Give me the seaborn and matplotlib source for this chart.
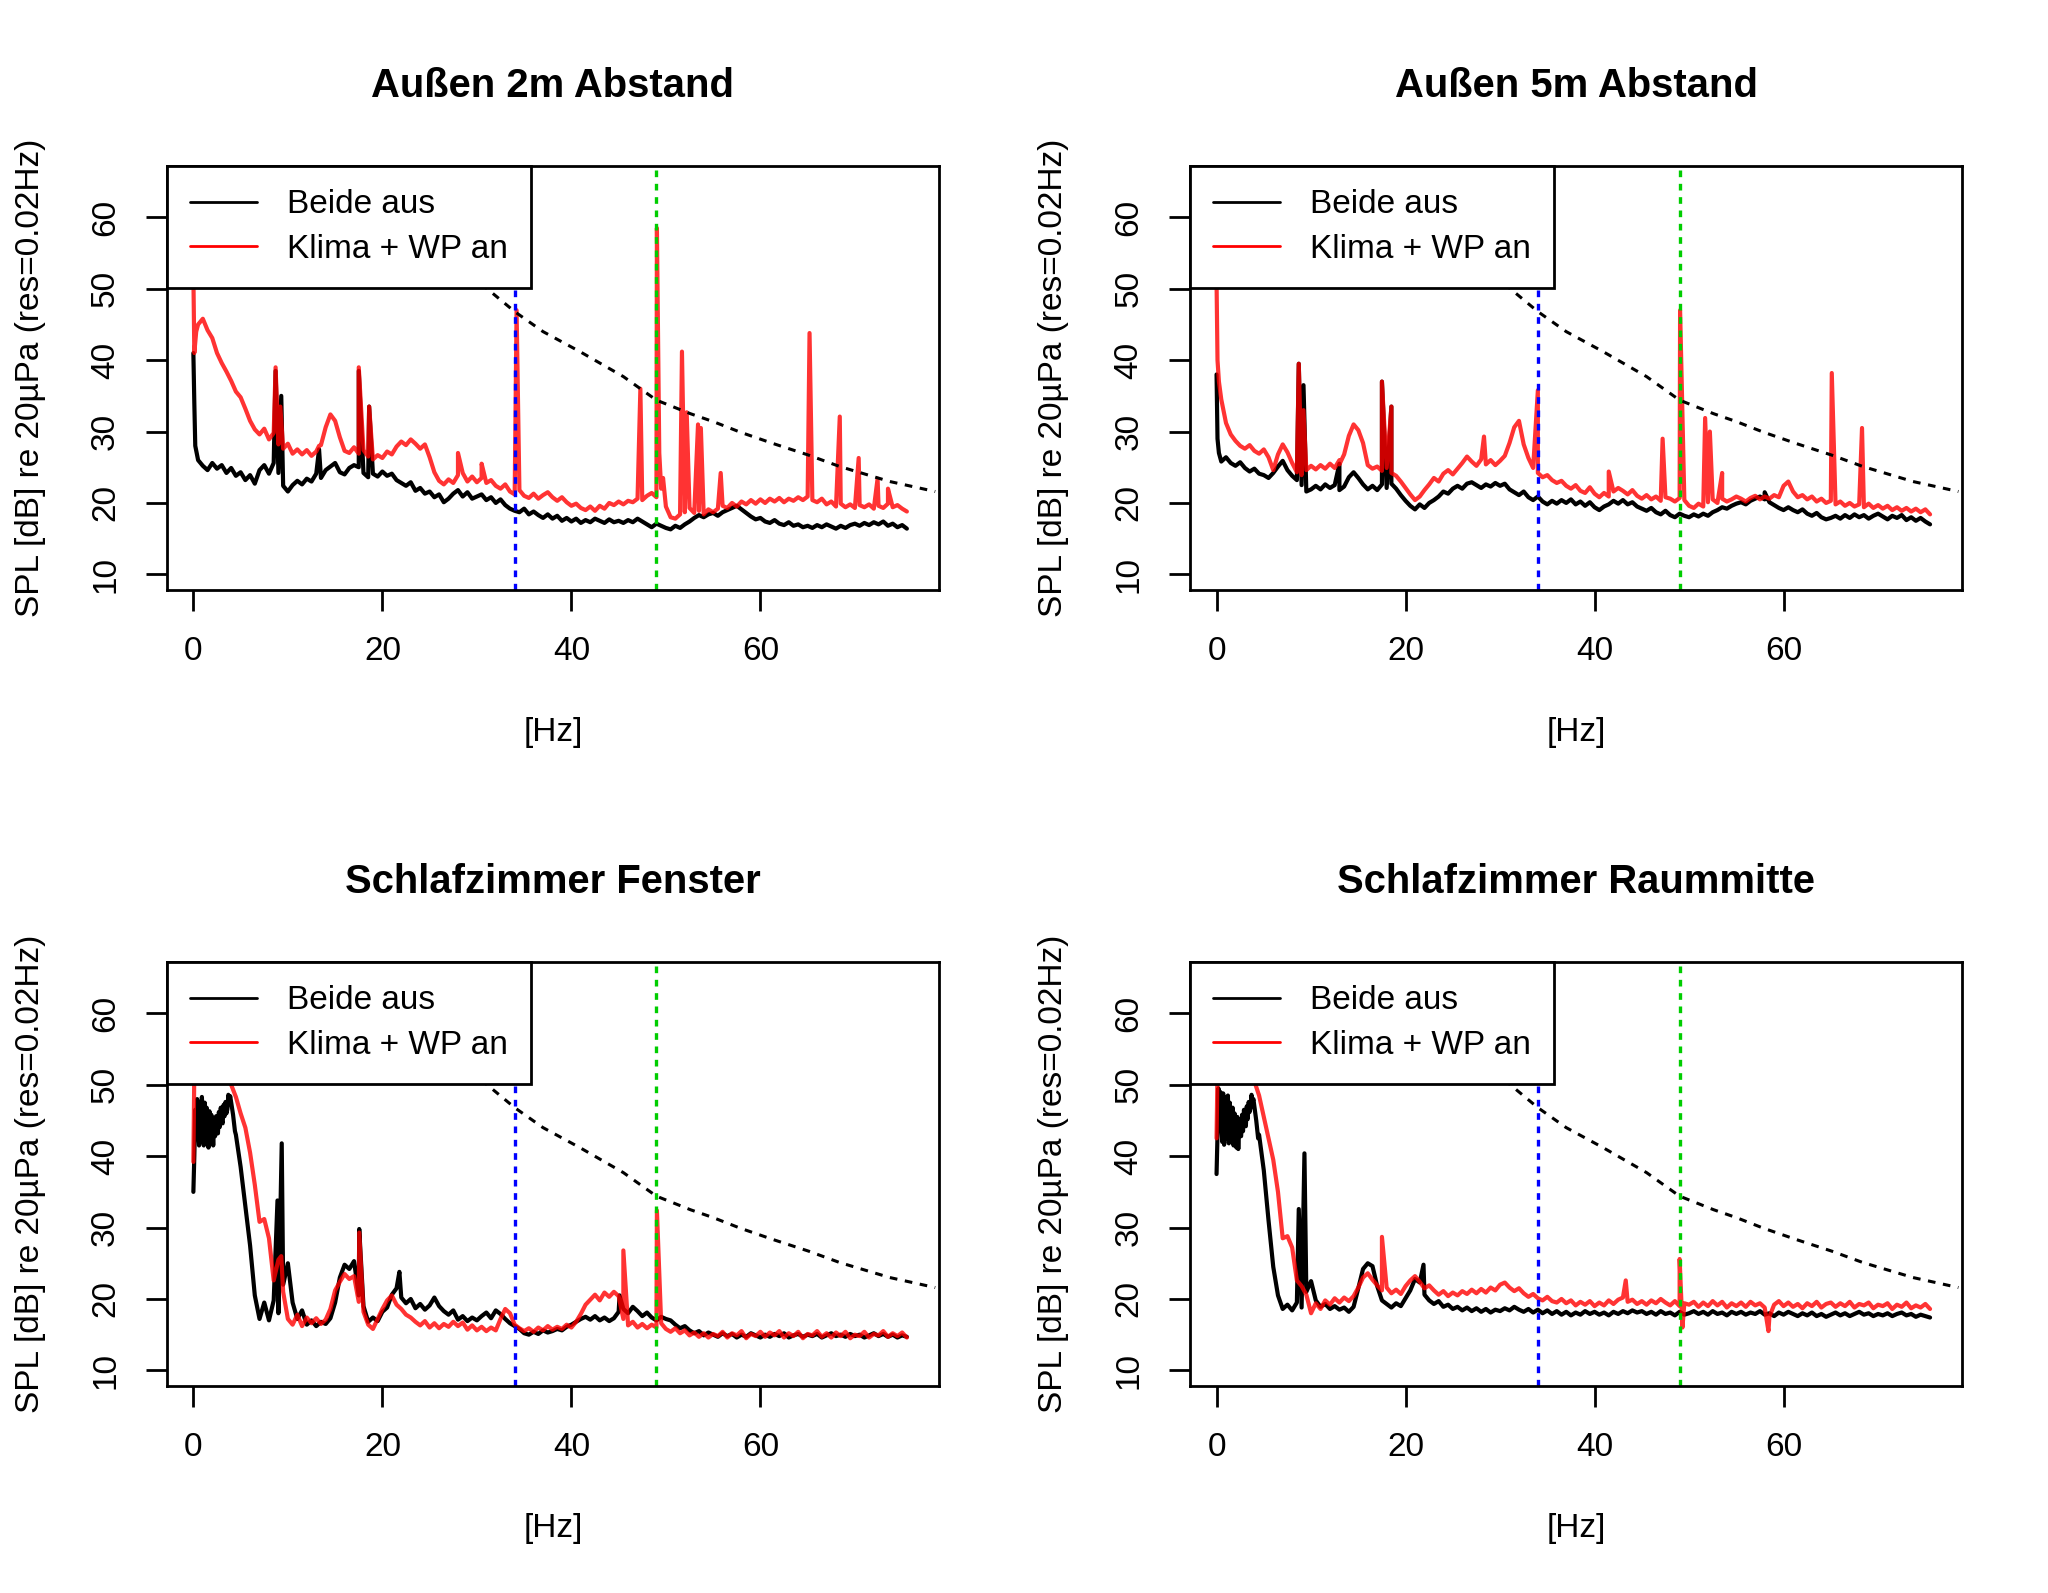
import numpy as np
import pandas as pd
import matplotlib
matplotlib.use("Agg")
import matplotlib.pyplot as plt
from matplotlib.lines import Line2D
import seaborn as sns

# Frequenzraster der Spektren (Hz), Werte alle 0.5 Hz
freq = np.arange(0.5, 76.0, 0.5)

# --- Außen 2m Abstand ---
a2_aus = [
    26.0, 25.2, 24.6, 25.6, 24.8, 25.3, 24.2, 24.9, 23.8, 24.3,
    23.2, 23.9, 22.7, 24.6, 25.3, 24.1, 25.6, 24.2, 22.4, 21.6,
    22.5, 23.1, 22.6, 23.4, 23.0, 24.1, 23.5, 24.6, 25.1, 25.6,
    24.3, 24.0, 24.9, 25.3, 25.0, 24.2, 23.6, 24.1, 23.7, 24.4,
    23.8, 24.1, 23.2, 22.8, 22.4, 22.9, 21.7, 22.1, 21.3, 21.6,
    20.8, 21.2, 20.1, 20.6, 21.3, 21.8, 20.9, 21.5, 20.6, 20.9,
    21.2, 20.4, 20.8, 20.0, 20.5, 19.7, 19.2, 18.9, 18.7, 19.2,
    18.4, 18.8, 18.3, 17.9, 18.4, 17.8, 18.2, 17.5, 17.9, 17.4,
    17.8, 17.2, 17.6, 17.3, 17.8, 17.5, 17.2, 17.7, 17.3, 17.5,
    17.2, 17.6, 17.3, 17.8, 17.4, 17.0, 16.6, 17.1, 16.8, 16.5,
    16.3, 16.8, 16.5, 17.0, 17.4, 17.9, 18.3, 18.0, 18.4, 18.6,
    18.2, 18.7, 19.0, 19.3, 19.6, 19.1, 18.6, 18.1, 17.7, 17.9,
    17.4, 17.2, 17.6, 17.1, 16.9, 17.3, 16.8, 17.0, 16.6, 16.8,
    16.5, 16.9, 16.6, 17.0, 16.7, 16.4, 16.8, 16.5, 16.9, 17.1,
    16.8, 17.2, 16.9, 17.3, 17.0, 17.4, 16.8, 17.1, 16.6, 16.9,
    16.4,
]
a2_aus_extra = [(0.0, 41.0), (0.1, 34.0), (0.2, 28.0), (8.7, 38.5), (9.3, 35.0),
                (13.3, 27.5), (17.5, 38.5), (18.6, 33.5)]
a2_an = [
    45.0, 45.8, 44.2, 43.1, 41.0, 39.6, 38.4, 37.1, 35.6, 34.8,
    33.2, 31.5, 30.3, 29.6, 30.4, 28.9, 29.8, 28.2, 27.6, 28.3,
    26.9, 27.5, 26.8, 27.4, 26.6, 27.2, 28.1, 30.6, 32.4, 31.5,
    29.2, 27.3, 27.0, 27.8, 26.9, 27.4, 26.5, 26.1, 26.7, 26.3,
    27.2, 26.8, 27.9, 28.6, 28.1, 28.9, 28.3, 27.6, 28.2, 26.4,
    24.3, 23.1, 22.6, 23.3, 22.8, 23.9, 24.2, 23.0, 23.7, 22.9,
    23.5, 22.8, 23.2, 22.4, 22.0, 22.6, 21.6, 21.2, 21.8, 21.0,
    20.7, 21.3, 20.6, 21.1, 21.5, 20.8, 20.3, 20.8, 20.1, 19.6,
    19.9, 19.3, 19.0, 19.5, 18.9, 19.6, 19.2, 20.0, 19.7, 20.2,
    19.8, 20.3, 20.1, 20.6, 20.4, 21.0, 21.4, 20.8, 22.0, 19.5,
    18.0, 17.8, 18.4, 18.7, 19.3, 18.6, 18.9, 18.4, 19.1, 18.7,
    19.2, 19.6, 19.3, 20.0, 19.5, 20.2, 19.8, 20.4, 19.9, 20.5,
    20.0, 20.6, 20.2, 20.7, 20.1, 20.6, 20.3, 20.8, 20.4, 20.9,
    20.4, 20.1, 20.6, 19.8, 20.2, 19.5, 19.9, 19.4, 19.8, 19.3,
    19.7, 19.4, 19.8, 19.2, 19.6, 19.3, 19.9, 19.4, 19.7, 19.2,
    18.8,
]
a2_an_extra = [(0.0, 52.0), (0.1, 41.0), (0.3, 44.0), (8.7, 39.0), (9.2, 33.5),
               (13.3, 28.0), (17.5, 39.0), (18.6, 33.5), (28.0, 27.0), (30.5, 25.5),
               (34.2, 47.0), (47.3, 36.0), (49.05, 58.5), (49.3, 27.0), (49.7, 23.5),
               (51.7, 41.2), (52.2, 32.7), (53.4, 31.0), (53.7, 30.5), (55.8, 24.2),
               (65.2, 43.8), (68.4, 32.1), (70.4, 26.3), (72.4, 23.4), (73.5, 22.0)]

# --- Außen 5m Abstand ---
a5_aus = [
    25.8, 26.4, 25.6, 25.2, 25.7, 24.9, 24.4, 24.8, 24.1, 23.9,
    23.5, 24.2, 25.1, 25.9, 24.6, 23.8, 23.2, 22.5, 21.6, 21.9,
    22.4, 21.9, 22.6, 22.1, 22.5, 21.8, 22.3, 23.6, 24.3, 23.5,
    22.6, 21.9, 22.4, 21.8, 22.6, 22.1, 22.7, 22.0, 21.1, 20.3,
    19.6, 19.1, 19.8, 19.3, 20.0, 20.4, 20.9, 21.6, 21.3, 22.0,
    22.4, 22.0, 22.7, 22.9, 22.5, 22.1, 22.6, 22.3, 22.8, 22.4,
    22.7, 21.9, 21.5, 21.1, 21.6, 20.8, 20.4, 20.9, 20.2, 19.8,
    20.3, 19.9, 20.4, 20.0, 20.5, 19.8, 20.2, 19.6, 20.1, 19.4,
    19.0, 19.5, 19.8, 20.3, 19.9, 20.4, 19.8, 20.1, 19.5, 19.2,
    18.9, 19.3, 18.7, 18.4, 18.9, 18.3, 18.0, 18.5, 18.2, 18.0,
    18.4, 18.1, 18.5, 18.2, 18.7, 19.0, 19.4, 19.2, 19.6, 19.9,
    20.1, 19.8, 20.3, 20.6, 20.9, 20.5, 20.1, 19.7, 19.3, 19.0,
    19.4, 19.0, 18.7, 19.1, 18.5, 18.2, 18.6, 18.0, 17.7, 17.9,
    18.2, 17.8, 18.3, 17.9, 18.4, 18.0, 18.3, 17.8, 18.2, 18.5,
    18.1, 17.7, 18.2, 17.9, 18.3, 17.6, 18.0, 17.5, 17.9, 17.4,
    17.0,
]
a5_aus_extra = [(0.0, 38.0), (0.1, 29.0), (0.25, 27.0), (8.7, 39.5), (9.2, 36.5),
                (13.0, 25.5), (17.5, 37.0), (18.5, 33.5), (58.0, 21.5)]
a5_an = [
    34.5, 31.2, 29.6, 28.7, 28.0, 27.6, 28.1, 27.3, 26.9, 27.5,
    26.4, 24.6, 26.8, 28.2, 27.1, 25.6, 24.3, 23.9, 24.6, 25.2,
    24.7, 25.3, 24.8, 25.5, 24.9, 25.4, 26.8, 29.4, 31.0, 30.2,
    28.4, 25.3, 24.8, 25.1, 24.5, 24.9, 24.2, 23.8, 23.0, 22.1,
    21.2, 20.4, 20.9, 21.8, 22.6, 23.5, 23.0, 24.1, 24.6, 24.0,
    24.8, 25.6, 26.5, 25.8, 25.2, 26.1, 25.4, 26.0, 25.3, 25.9,
    26.6, 28.4, 30.6, 31.5, 28.2, 26.3, 24.9, 24.2, 23.6, 23.9,
    23.2, 22.8, 23.1, 22.4, 22.0, 22.5, 21.7, 21.4, 22.2, 21.3,
    20.8, 21.4, 20.9, 21.6, 22.1, 21.7, 21.2, 21.8, 21.0, 20.6,
    21.1, 20.5, 20.9, 20.3, 20.8, 20.6, 20.2, 20.7, 20.4, 19.6,
    19.3, 19.9, 19.5, 20.1, 20.5, 20.0, 20.6, 20.2, 20.5, 20.9,
    20.6, 20.2, 20.7, 21.0, 20.5, 20.9, 20.6, 21.1, 20.8, 22.4,
    23.0, 21.6, 20.8, 21.1, 20.5, 20.9, 20.2, 20.6, 20.0, 20.3,
    19.8, 20.2, 19.6, 20.0, 19.5, 19.8, 19.4, 19.9, 19.3, 19.7,
    19.2, 19.6, 19.0, 19.4, 18.9, 19.3, 18.8, 19.2, 18.7, 19.1,
    18.4,
]
a5_an_extra = [(0.0, 51.0), (0.1, 40.0), (0.25, 37.0), (8.7, 39.5), (9.2, 33.0),
               (13.0, 26.0), (17.5, 37.0), (18.5, 33.5), (28.3, 29.3), (34.0, 35.8),
               (41.5, 24.4), (47.2, 29.0), (49.05, 47.0), (51.7, 31.9), (52.2, 30.0),
               (53.5, 24.2), (65.1, 38.2), (68.3, 30.5)]

# --- Schlafzimmer Fenster ---
sf_aus = [
    44.0, 45.5, 43.5, 44.5, 43.8, 45.0, 46.0, 47.5, 43.0, 38.5,
    33.0, 27.5, 20.5, 17.2, 19.5, 17.0, 19.8, 18.0, 22.0, 25.0,
    19.5, 17.2, 18.4, 16.4, 17.0, 16.2, 16.8, 16.5, 17.3, 19.5,
    23.0, 24.8, 24.2, 25.3, 20.5, 19.0, 16.8, 17.4, 16.9, 18.2,
    18.8, 20.6, 21.5, 20.2, 19.4, 20.0, 18.7, 19.3, 18.5, 19.1,
    20.2, 19.0, 18.3, 17.8, 18.4, 17.1, 17.6, 16.9, 17.4, 17.0,
    17.6, 18.1, 17.3, 18.4, 17.9, 17.2, 16.6, 16.2, 15.8, 15.2,
    15.0, 15.4, 15.1, 15.6, 15.3, 15.5, 15.8, 15.6, 16.1, 16.4,
    16.8, 17.2, 17.5, 17.1, 17.6, 17.0, 17.4, 16.9, 17.3, 18.2,
    18.6, 18.0, 18.9, 18.3, 17.6, 18.1, 17.4, 17.0, 17.5, 17.2,
    17.0, 16.4, 15.9, 16.2, 15.6, 15.2, 15.5, 14.9, 15.3, 15.0,
    14.7, 15.2, 14.8, 15.1, 14.6, 15.0, 14.7, 15.2, 14.9, 14.6,
    15.0, 14.7, 15.1, 14.8, 15.2, 14.6, 14.9, 15.1, 14.7, 15.0,
    14.8, 15.1, 14.6, 14.9, 15.2, 14.8, 15.0, 14.7, 15.1, 14.8,
    15.0, 14.6, 14.9, 15.2, 14.8, 15.1, 14.7, 15.0, 14.6, 14.9,
    14.7,
]
sf_aus_extra = [(0.0, 35.0), (0.1, 40.0), (0.2, 46.5), (0.3, 42.5), (0.4, 48.0),
                (0.6, 41.5), (0.7, 47.5), (0.8, 42.0), (0.9, 48.3), (1.1, 41.5),
                (1.2, 47.5), (1.3, 43.0), (1.4, 46.8), (1.6, 41.2), (1.7, 46.3),
                (1.8, 42.2), (1.9, 45.8), (2.1, 41.5), (2.2, 45.2), (2.3, 42.8),
                (2.4, 45.6), (2.6, 43.2), (2.7, 46.2), (2.8, 44.1), (2.9, 46.8),
                (3.1, 44.6), (3.2, 47.2), (3.3, 45.6), (3.4, 47.6), (3.6, 46.6),
                (3.7, 48.6), (3.8, 47.8), (3.9, 48.4), (4.2, 45.8), (4.3, 44.6),
                (4.4, 43.5), (8.9, 33.8), (9.35, 41.8), (17.55, 29.8), (21.8, 23.8),
                (45.1, 20.5)]
sf_an = [
    55.0, 56.0, 55.5, 56.5, 55.0, 54.5, 53.0, 50.0, 48.3, 46.0,
    44.0, 40.5, 36.0, 30.8, 31.2, 28.5, 22.6, 25.5, 21.0, 17.2,
    16.4, 17.8, 16.2, 17.4, 16.6, 17.3, 16.5, 17.1, 18.6, 21.2,
    22.4, 23.5, 22.8, 23.2, 19.6, 18.2, 16.4, 15.8, 17.2, 18.6,
    19.8, 20.5, 19.2, 18.6, 17.8, 17.4, 16.8, 16.3, 16.9, 16.0,
    16.6, 15.9, 16.5, 16.1, 16.8, 16.2, 16.7, 15.7, 16.3, 15.6,
    16.1, 15.5, 16.0, 15.6, 17.2, 18.6, 18.0, 16.4, 15.9, 15.5,
    15.9, 15.4, 16.0, 15.6, 16.2, 15.7, 16.1, 15.8, 16.4, 16.0,
    16.8, 17.9, 19.2, 19.9, 20.6, 19.8, 20.9, 20.3, 21.0, 20.4,
    17.2, 16.3, 16.8, 16.0, 16.5, 15.9, 16.4, 16.0, 16.6, 15.8,
    15.4, 15.9, 15.2, 15.6, 14.9, 15.3, 14.7, 15.2, 14.6, 15.1,
    14.8, 15.4, 14.6, 15.2, 14.9, 15.5, 14.5, 15.1, 14.8, 15.4,
    14.7, 15.3, 14.9, 15.5, 14.6, 15.2, 14.8, 15.4, 14.5, 15.1,
    14.9, 15.5, 14.7, 15.2, 14.6, 15.3, 14.8, 15.4, 14.5, 15.0,
    14.8, 15.4, 14.6, 15.1, 14.9, 15.5, 14.7, 15.2, 14.8, 15.3,
    14.6,
]
sf_an_extra = [(0.0, 39.2), (0.1, 52.0), (9.3, 26.0), (17.55, 29.3), (45.5, 26.8),
               (49.05, 32.4)]

# --- Schlafzimmer Raummitte ---
sr_aus = [
    44.5, 45.0, 43.8, 43.5, 43.0, 44.8, 46.2, 47.0, 43.0, 38.0,
    31.0, 24.5, 20.5, 18.6, 19.2, 18.4, 19.5, 18.8, 21.0, 22.5,
    19.8, 18.9, 19.3, 18.6, 19.0, 18.5, 18.8, 18.2, 18.9, 21.5,
    24.2, 25.0, 24.6, 21.8, 19.8, 19.3, 18.8, 19.4, 19.0, 20.1,
    21.2, 22.8, 22.3, 20.6, 19.8, 19.3, 19.7, 18.9, 19.2, 18.6,
    18.9, 18.4, 18.8, 18.3, 18.7, 18.2, 18.6, 18.1, 18.5, 18.3,
    18.7, 18.4, 18.9, 18.5, 18.2, 18.6, 18.1, 18.5, 18.0, 18.4,
    17.9, 18.3, 17.8, 18.2, 17.7, 18.1, 17.8, 18.3, 17.9, 18.2,
    17.8, 18.1, 17.7, 18.2, 17.9, 18.3, 18.0, 18.4, 18.1, 18.3,
    17.9, 18.2, 17.8, 18.3, 17.9, 18.1, 17.7, 18.2, 17.8, 18.0,
    18.3, 17.9, 18.2, 17.8, 18.3, 17.9, 18.1, 17.7, 18.2, 17.9,
    18.2, 17.8, 18.1, 17.9, 18.3, 17.8, 18.0, 17.6, 18.1, 17.8,
    18.2, 17.9, 17.6, 18.0, 17.7, 18.1, 17.6, 17.9, 17.5, 17.8,
    18.1, 17.7, 18.0, 17.6, 17.9, 18.2, 17.8, 18.0, 17.6, 17.9,
    17.7, 18.0, 17.6, 17.9, 18.1, 17.7, 17.9, 17.5, 17.8, 17.6,
    17.4,
]
sr_aus_extra = [(0.0, 37.5), (0.1, 43.0), (0.2, 49.5), (0.3, 44.0), (0.4, 49.0),
                (0.6, 42.0), (0.7, 48.8), (0.8, 41.6), (0.9, 48.2), (1.1, 42.5),
                (1.2, 48.5), (1.3, 41.8), (1.4, 47.5), (1.6, 42.2), (1.7, 46.8),
                (1.8, 41.5), (1.9, 46.0), (2.1, 41.2), (2.2, 45.5), (2.3, 41.0),
                (2.4, 44.8), (2.6, 42.8), (2.7, 45.8), (2.8, 43.5), (2.9, 46.5),
                (3.1, 44.2), (3.2, 47.0), (3.3, 45.2), (3.4, 47.6), (3.6, 46.8),
                (3.7, 48.6), (3.8, 47.5), (3.9, 48.0), (4.2, 45.0), (4.3, 43.8),
                (4.4, 42.5), (8.7, 32.6), (9.3, 40.4), (21.9, 24.8)]
sr_an = [
    55.0, 56.0, 55.5, 56.0, 55.0, 54.0, 52.5, 50.5, 48.5, 45.5,
    42.5, 39.5, 35.0, 28.5, 28.8, 27.2, 22.6, 21.8, 20.6, 18.0,
    19.4, 18.6, 19.8, 19.2, 20.1, 19.5, 20.2, 19.7, 20.4, 21.6,
    23.0, 23.6, 22.7, 21.9, 21.2, 21.6, 20.8, 21.3, 20.7, 21.8,
    22.6, 23.2, 22.4, 21.5, 21.9, 21.2, 20.6, 21.1, 20.4, 20.9,
    20.5, 21.1, 20.7, 21.3, 20.8, 21.4, 20.9, 21.6, 21.2, 22.0,
    22.3, 21.6, 21.1, 21.5, 20.8, 20.3, 20.7, 20.1, 19.8, 20.3,
    19.7, 19.5, 20.0, 19.4, 19.8, 19.1, 19.6, 19.2, 19.7, 19.0,
    19.5, 19.1, 19.8, 19.3, 19.9, 20.2, 19.6, 19.9, 19.3, 19.7,
    19.2, 19.8, 19.4, 20.0, 19.5, 19.1, 19.7, 19.0, 19.4, 19.2,
    19.6, 18.9, 19.5, 19.0, 19.7, 19.1, 19.6, 18.8, 19.4, 19.0,
    19.5, 18.9, 19.6, 19.1, 19.4, 18.8, 17.5, 19.2, 19.7, 19.0,
    19.5, 18.9, 19.3, 18.7, 19.4, 19.0, 19.6, 18.8, 19.3, 19.5,
    18.9, 19.4, 19.0, 19.6, 18.8, 19.3, 19.1, 19.5, 18.7, 19.2,
    19.0, 19.4, 18.6, 19.2, 18.9, 19.5, 18.7, 19.1, 18.8, 19.3,
    18.6,
]
sr_an_extra = [(0.0, 42.5), (0.1, 52.0), (17.5, 28.7), (43.3, 22.6), (49.0, 25.6),
               (49.3, 16.0), (58.4, 15.5)]

# gestrichelte Grenzkurve (Hz, dB)
kurve_f = [28.0, 31.0, 34.0, 37.0, 40.9, 45.5, 49.0, 52.6, 55.0, 57.9, 61.4, 65.1, 68.4, 73.7, 78.5]
kurve_db = [53.5, 50.1, 46.8, 44.0, 41.2, 37.7, 34.4, 32.5, 31.4, 29.9, 28.3, 26.7, 25.1, 23.0, 21.6]

# senkrechte Markierungen (Hz)
marke_blau = 34.0
marke_gruen = 49.0

titel = ["Außen 2m Abstand", "Außen 5m Abstand", "Schlafzimmer Fenster", "Schlafzimmer Raummitte"]
serien = [
    (a2_aus, a2_aus_extra, a2_an, a2_an_extra),
    (a5_aus, a5_aus_extra, a5_an, a5_an_extra),
    (sf_aus, sf_aus_extra, sf_an, sf_an_extra),
    (sr_aus, sr_aus_extra, sr_an, sr_an_extra),
]
legend_labels = ["Beide aus", "Klima + WP an"]


def build(values, extra):
    """Rasterwerte und Einzelpunkte (Spitzen) zu einer sortierten Tabelle zusammenfuehren."""
    df = pd.DataFrame({"f": freq, "db": values})
    df_extra = pd.DataFrame(extra, columns=["f", "db"])
    return pd.concat([df, df_extra]).sort_values("f").reset_index(drop=True)


sns.set_style("ticks", rc={"axes.edgecolor": "black", "xtick.color": "black",
                           "ytick.color": "black", "text.color": "black",
                           "axes.labelcolor": "black"})
plt.rcParams["font.family"] = ["Liberation Sans", "DejaVu Sans"]
plt.rcParams["font.size"] = 12

fig = plt.figure(figsize=(10.24, 7.965), dpi=200)
positions = [
    [0.0815, 0.6296, 0.3770, 0.2662],
    [0.5811, 0.6296, 0.3770, 0.2662],
    [0.0815, 0.1299, 0.3770, 0.2662],
    [0.5811, 0.1299, 0.3770, 0.2662],
]

for pos, name, (aus, aus_x, an, an_x) in zip(positions, titel, serien):
    ax = fig.add_axes(pos)
    sns.lineplot(data=build(aus, aus_x), x="f", y="db", ax=ax, color="black",
                 lw=1.5, estimator=None, sort=False)
    sns.lineplot(data=build(an, an_x), x="f", y="db", ax=ax, color="red",
                 alpha=0.8, lw=1.5, estimator=None, sort=False)
    sns.lineplot(x=kurve_f, y=kurve_db, ax=ax, color="black", lw=1.1,
                 dashes=False, linestyle=(0, (2.5, 2.5)), estimator=None, sort=False)
    ax.axvline(marke_blau, color="blue", lw=1.2, linestyle=(0, (2, 2)))
    ax.axvline(marke_gruen, color="#00cd00", lw=1.2, linestyle=(0, (2, 2)))

    ax.set_xlim(-2.8, 78.9)
    ax.set_ylim(7.8, 67.2)
    ax.set_xticks([0, 20, 40, 60])
    ax.set_yticks([10, 20, 30, 40, 50, 60])
    ax.tick_params(direction="out", length=7.5, width=1.0, labelsize=12)
    ax.tick_params(axis="x", pad=9)
    ax.tick_params(axis="y", pad=9, labelrotation=90)
    for lab in ax.get_yticklabels():
        lab.set_va("center")
    for sp in ax.spines.values():
        sp.set_visible(True)
        sp.set_linewidth(1.0)
        sp.set_color("black")

    ax.set_title(name, fontsize=14.4, fontweight="bold", pad=25)
    ax.set_xlabel("[Hz]", fontsize=12, labelpad=18)
    ax.set_ylabel("SPL [dB] re 20µPa (res=0.02Hz)", fontsize=12, labelpad=16)

    handles = [Line2D([], [], color="black", lw=1.0), Line2D([], [], color="red", lw=1.0)]
    leg = ax.legend(handles, legend_labels, loc="upper left", bbox_to_anchor=(0, 1),
                    borderaxespad=0, frameon=True, fancybox=False, framealpha=1,
                    edgecolor="black", fontsize=12, handlelength=2.0,
                    handletextpad=0.9, borderpad=0.7, labelspacing=0.4)
    leg.get_frame().set_linewidth(1.0)

fig.savefig("out.png", dpi=200, facecolor="white")
